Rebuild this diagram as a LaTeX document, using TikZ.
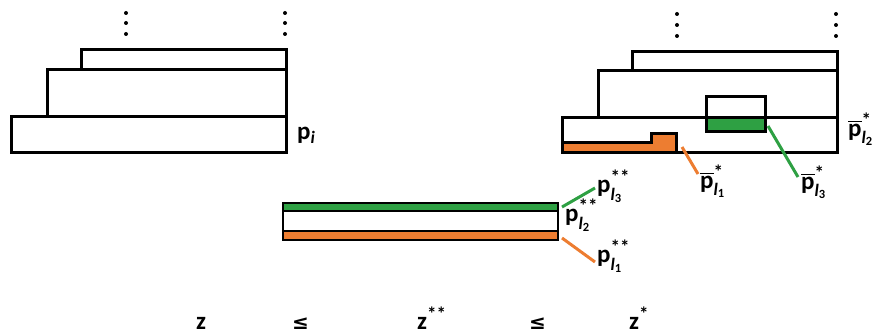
\documentclass[tikz,border=0pt]{standalone}
\usepackage{amsmath}
\usepackage{fontspec}
\setmainfont{Carlito}
\newfontfamily\djv{DejaVu Sans}
\definecolor{mygreen}{RGB}{46,160,67}
\definecolor{myorange}{RGB}{237,125,49}
\newcommand{\stars}[1]{{\fontsize{19}{19}\selectfont\bfseries #1}}
\newcommand{\pl}[3]{$#1{\text{p}}^{\text{\stars{#2}}}_{\text{\itshape l}_{\text{#3}}}$}
\begin{document}
\begin{tikzpicture}[x=1pt,y=-1pt,
  box/.style={draw=black,line width=3pt,line join=miter},
  lbl/.style={anchor=base west,inner sep=0pt,font=\bfseries\fontsize{25}{27}\selectfont},
  dotc/.style={fill=black,circle,inner sep=0pt,minimum size=4pt},
  gline/.style={draw=mygreen,line width=3pt},
  oline/.style={draw=myorange,line width=3pt}]
\useasboundingbox (0,0) rectangle (872,336);
% left stack
\node[dotc] (ld1) at (126,13) {};\node[dotc] (ld2) at (126,23) {};\node[dotc] (ld3) at (126,34) {};
\node[dotc] (ld4) at (285,13) {};\node[dotc] (ld5) at (285,23) {};\node[dotc] (ld6) at (285,34) {};
\draw[box] (81,50) rectangle (286,70);
\draw[box] (47,70) rectangle (286,117);
\draw[box] (11,117) rectangle (286,153);
\node[lbl] (pi) at (297,140) {p\textsubscript{\itshape i}};
% right stack
\node[dotc] (rd1) at (677,14) {};\node[dotc] (rd2) at (677,25) {};\node[dotc] (rd3) at (677,36) {};
\node[dotc] (rd4) at (836,14) {};\node[dotc] (rd5) at (836,25) {};\node[dotc] (rd6) at (836,36) {};
\draw[box] (632,52) rectangle (837,71);
\draw[box] (598,71) rectangle (837,118);
\draw[box] (562,118) rectangle (837,153);
\fill[mygreen] (706,118) rectangle (765,132);
\draw[box] (706,97) rectangle (765,132);
\draw[box] (706,118) -- (765,118);
\draw[box,fill=myorange] (562,153) -- (562,143) -- (651,143) -- (651,134) -- (676,134) -- (676,153) -- cycle;
\node[lbl] (pb2) at (848,137) {\pl{\overline}{*}{2}};
\node[lbl] (pb1) at (700,189) {\pl{\overline}{*}{1}};
\node[lbl] (pb3) at (801,190) {\pl{\overline}{*}{3}};
\coordinate (oe) at (682,147);
\coordinate (oe2) at (698,174);
\coordinate (ge) at (768,126);
\coordinate (ge2) at (798,177);
\draw[oline] (oe) -- (oe2);
\draw[gline] (ge) -- (ge2);
% middle bar
\fill[mygreen] (283,203) rectangle (558,211);
\fill[myorange] (283,231) rectangle (558,240);
\draw[box,line width=2.5pt] (283,203) rectangle (558,240);
\draw[line width=2.5pt] (283,211) -- (558,211);
\draw[line width=2.5pt] (283,231) -- (558,231);
\node[lbl] (q2) at (565,222) {\pl{}{**}{2}};
\node[lbl] (q3) at (597,193) {\pl{}{**}{3}};
\node[lbl] (q1) at (597,263) {\pl{}{**}{1}};
\coordinate (bg) at (562,207);
\coordinate (bg2) at (595,188);
\coordinate (bo) at (562,238);
\coordinate (bo2) at (595,262);
\draw[gline] (bg) -- (bg2);
\draw[oline] (bo) -- (bo2);
% bottom
\node[lbl] (z) at (196,330) {z};
\node[lbl] (le1) at (292,330) {\djv\fontsize{20}{22}\selectfont ≤};
\node[lbl] (zz) at (417,330) {z\textsuperscript{\stars{**}}};
\node[lbl] (le2) at (529,330) {\djv\fontsize{20}{22}\selectfont ≤};
\node[lbl] (zs) at (629,330) {z\textsuperscript{\stars{*}}};
\end{tikzpicture}
\end{document}
